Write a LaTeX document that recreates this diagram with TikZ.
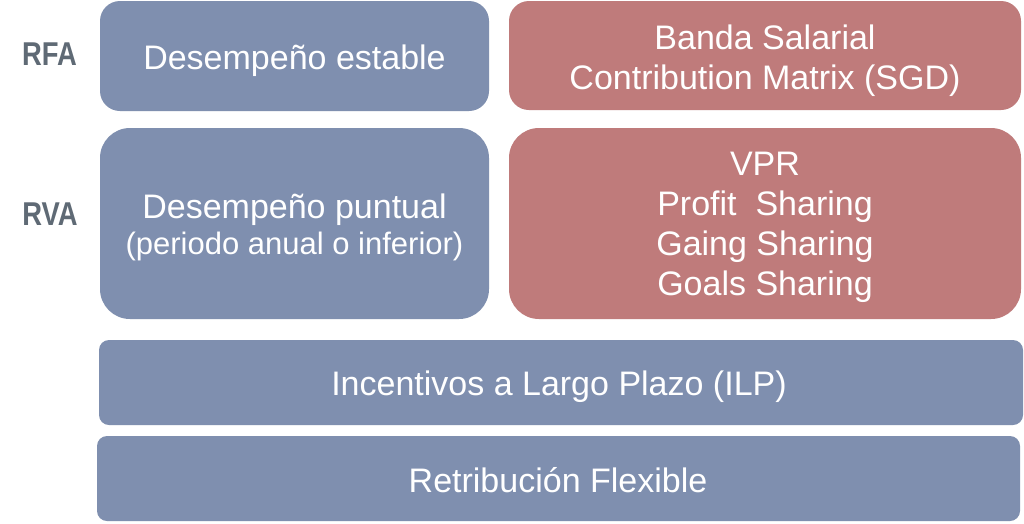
\documentclass[tikz,border=0pt]{standalone}
\usepackage{fontspec}
\setmainfont{Liberation Sans}
\definecolor{bluebox}{RGB}{127,143,175}
\definecolor{redbox}{RGB}{191,123,123}
\definecolor{lbl}{RGB}{95,106,117}
\tikzset{
  blueb/.style={fill=bluebox, draw=none, inner sep=0pt, outer sep=0pt},
  redb/.style={fill=redbox, draw=none, inner sep=0pt, outer sep=0pt},
  txt/.style={text=white, font=\fontsize{34}{40}\selectfont, anchor=base, inner sep=0pt},
  subtxt/.style={text=white, font=\fontsize{31}{36}\selectfont, anchor=base, inner sep=0pt},
  lab/.style={text=lbl, font=\bfseries\fontsize{33}{38}\selectfont, anchor=base, inner sep=0pt}
}
\begin{document}
\begin{tikzpicture}[x=1pt,y=-1pt]
\useasboundingbox (0,0) rectangle (1024,523);
\fill[white] (0,0) rectangle (1024,523);
% boxes
\node[blueb, rounded corners=20pt, minimum width=389pt, minimum height=110pt] (estable) at (294.5,56) {};
\node[blueb, rounded corners=30pt, minimum width=389pt, minimum height=191pt] (puntual) at (294.5,223.5) {};
\node[redb, rounded corners=20pt, minimum width=512pt, minimum height=109pt] (banda) at (765,55.5) {};
\node[redb, rounded corners=30pt, minimum width=512pt, minimum height=191pt] (vpr) at (765,223.5) {};
\node[blueb, rounded corners=10pt, minimum width=924pt, minimum height=85pt] (ilp) at (561,382.5) {};
\node[blueb, rounded corners=10pt, minimum width=923pt, minimum height=85pt] (flex) at (558.5,478.5) {};
% labels
\node[lab] (rfa) at (49.5,65) {\scalebox{0.83}[1]{RFA}};
\node[lab] (rva) at (50,225) {\scalebox{0.83}[1]{RVA}};
% texts
\node[txt] (t1) at (294.5,69) {Desempeño estable};
\node[txt] (t2) at (294.5,218) {Desempeño puntual};
\node[subtxt] (t3) at (294.5,254) {(periodo anual o inferior)};
\node[txt] (t4) at (765,49) {Banda Salarial};
\node[txt] (t5) at (765,89) {Contribution Matrix (SGD)};
\node[txt] (t6) at (765,175) {VPR};
\node[txt] (t7) at (765,215) {Profit~ Sharing};
\node[txt] (t8) at (765,255) {Gaing Sharing};
\node[txt] (t9) at (765,295) {Goals Sharing};
\node[txt] (t10) at (559,395) {Incentivos a Largo Plazo (ILP)};
\node[txt] (t11) at (558,492) {Retribución Flexible};
\end{tikzpicture}
\end{document}
